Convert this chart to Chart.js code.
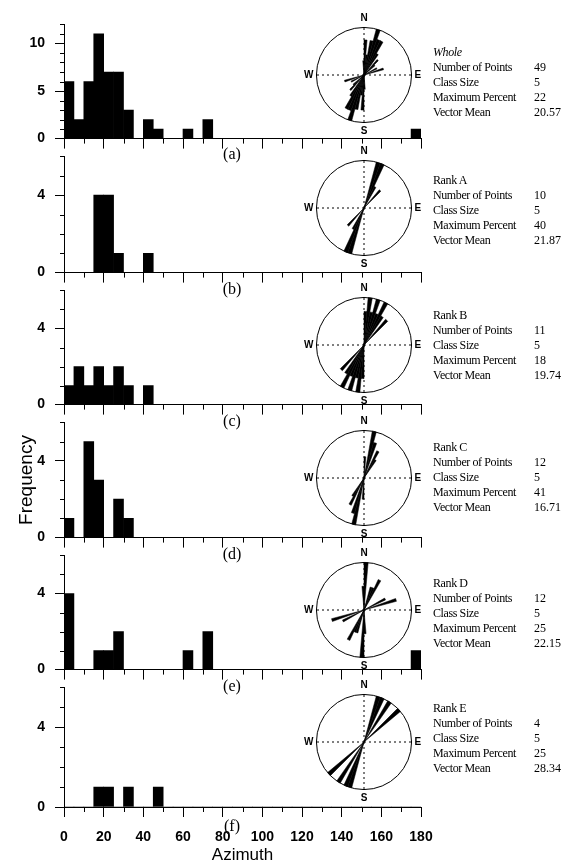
<!DOCTYPE html>
<html>
<head>
<meta charset="utf-8">
<script src="https://cdn.jsdelivr.net/npm/chart.js@4.4.1/dist/chart.umd.min.js"></script>
<style>
  body { margin: 0; background: #fff; }
  #fig { position: relative; width: 566px; height: 866px; overflow: hidden; background: #fff; }
  #fig canvas { position: absolute; }
  .stats { position: absolute; left: 433px; font: 12px "Liberation Serif", serif; line-height: 15px; letter-spacing: -0.4px; color: #000; white-space: nowrap; }
  .stats div { position: relative; }
  .stats span { position: absolute; left: 101px; letter-spacing: 0; }
  .tag { position: absolute; width: 30px; text-align: center; font: 16px "Liberation Serif", serif; color: #000; }
</style>
</head>
<body>
<div id="fig"></div>
<script>
// Azimuth classes, class size 5 degrees (start of each class)
const binStart = [0, 5, 10, 15, 20, 25, 30, 35, 40, 45, 50, 55, 60, 65, 70, 75, 80, 85,
                  90, 95, 100, 105, 110, 115, 120, 125, 130, 135, 140, 145, 150, 155, 160, 165, 170, 175];

// Frequencies per class
const wholeCounts = [6, 2, 6, 11, 7, 7, 3, 0, 2, 1, 0, 0, 1, 0, 2, 0, 0, 0,
                     0, 0, 0, 0, 0, 0, 0, 0, 0, 0, 0, 0, 0, 0, 0, 0, 0, 1];
const rankACounts = [0, 0, 0, 4, 4, 1, 0, 0, 1, 0, 0, 0, 0, 0, 0, 0, 0, 0,
                     0, 0, 0, 0, 0, 0, 0, 0, 0, 0, 0, 0, 0, 0, 0, 0, 0, 0];
const rankBCounts = [1, 2, 1, 2, 1, 2, 1, 0, 1, 0, 0, 0, 0, 0, 0, 0, 0, 0,
                     0, 0, 0, 0, 0, 0, 0, 0, 0, 0, 0, 0, 0, 0, 0, 0, 0, 0];
const rankCCounts = [1, 0, 5, 3, 0, 2, 1, 0, 0, 0, 0, 0, 0, 0, 0, 0, 0, 0,
                     0, 0, 0, 0, 0, 0, 0, 0, 0, 0, 0, 0, 0, 0, 0, 0, 0, 0];
const rankDCounts = [4, 0, 0, 1, 1, 2, 0, 0, 0, 0, 0, 0, 1, 0, 2, 0, 0, 0,
                     0, 0, 0, 0, 0, 0, 0, 0, 0, 0, 0, 0, 0, 0, 0, 0, 0, 1];
const rankECounts = [0, 0, 0, 1, 1, 0, 1, 0, 0, 1, 0, 0, 0, 0, 0, 0, 0, 0,
                     0, 0, 0, 0, 0, 0, 0, 0, 0, 0, 0, 0, 0, 0, 0, 0, 0, 0];

// Summary text next to each rose
const panelNames = ["Whole", "Rank A", "Rank B", "Rank C", "Rank D", "Rank E"];
const numberOfPoints = ["49", "10", "11", "12", "12", "4"];
const classSize = ["5", "5", "5", "5", "5", "5"];
const maximumPercent = ["22", "40", "18", "41", "25", "25"];
const vectorMean = ["20.57", "21.87", "19.74", "16.71", "22.15", "28.34"];
const panelTags = ["(a)", "(b)", "(c)", "(d)", "(e)", "(f)"];

// Tick labels
const xMajor = [0, 20, 40, 60, 80, 100, 120, 140, 160, 180];
const xMinor = [10, 30, 50, 70, 90, 110, 130, 150, 170];
const yMajorWhole = [0, 5, 10];
const yMinorWhole = [1, 2, 3, 4, 6, 7, 8, 9, 11, 12];
const yMajorRank = [0, 4];
const yMinorRank = [1, 2, 3, 5, 6];
const compass = ["N", "E", "S", "W"];

// Page layout (pixels)
const zeroY = [143, 277, 409, 542, 674, 807];
const topY = [11, 143, 277, 409, 542, 674];
const roseY = [75, 208, 345, 478, 610, 742];
const textY = [52, 180, 315, 447, 583, 708];
const tagY = [155, 290, 422, 555, 687, 827];

const allCounts = [wholeCounts, rankACounts, rankBCounts, rankCCounts, rankDCounts, rankECounts];
const fig = document.getElementById("fig");

function addCanvas(left, top, w, h) {
    const c = document.createElement("canvas");
    c.width = w;
    c.height = h;
    c.style.left = left + "px";
    c.style.top = top + "px";
    c.style.width = w + "px";
    c.style.height = h + "px";
    fig.appendChild(c);
    return c;
}

// Short ticks between the labelled ones
const minorTicks = {
    id: "minorTicks",
    afterDraw(chart, args, opts) {
        const ctx = chart.ctx;
        const xs = chart.scales.x;
        const ys = chart.scales.y;
        ctx.save();
        ctx.strokeStyle = "#000";
        ctx.lineWidth = 1;
        ctx.beginPath();
        opts.x.forEach(v => {
            const px = Math.round(xs.getPixelForValue(v)) + 0.5;
            ctx.moveTo(px, xs.top);
            ctx.lineTo(px, xs.top + opts.xLen);
        });
        opts.y.forEach(v => {
            const py = Math.round(ys.getPixelForValue(v)) + 0.5;
            ctx.moveTo(ys.right - opts.yLen, py);
            ctx.lineTo(ys.right, py);
        });
        ctx.stroke();
        ctx.restore();
    }
};

const tickFont = { family: "Liberation Sans", size: 14, weight: "bold" };

function makeHistogram(i) {
    const counts = allCounts[i];
    const last = i === 5;
    const bottomH = last ? 866 - zeroY[i] : 14;
    const canvasTop = topY[i] - 5;
    const h = zeroY[i] - canvasTop + bottomH;
    const yMajor = i === 0 ? yMajorWhole : yMajorRank;
    const yMinor = i === 0 ? yMinorWhole : yMinorRank;

    new Chart(addCanvas(0, canvasTop, 460, h), {
        type: "bar",
        data: {
            datasets: [{
                data: binStart.map((s, k) => ({ x: s + 2.5, y: counts[k] })),
                backgroundColor: "#000",
                borderWidth: 0,
                barPercentage: 1,
                categoryPercentage: 1
            }]
        },
        options: {
            responsive: false,
            animation: false,
            devicePixelRatio: 1,
            layout: { padding: { top: 5, right: 39, left: 0, bottom: 0 } },
            plugins: {
                legend: { display: false },
                tooltip: { enabled: false },
                minorTicks: { x: xMinor, y: yMinor, xLen: 5, yLen: 4 }
            },
            scales: {
                x: {
                    type: "linear",
                    min: 0,
                    max: 180,
                    offset: false,
                    grid: { offset: false, drawOnChartArea: false, tickLength: 10, color: "#000" },
                    border: { color: "#000", width: 1 },
                    ticks: { display: last, font: tickFont, color: "#000", padding: 12, maxRotation: 0, autoSkip: false },
                    afterBuildTicks: s => { s.ticks = xMajor.map(v => ({ value: v })); },
                    afterFit: s => { s.height = bottomH; },
                    title: {
                        display: last,
                        text: "Azimuth",
                        color: "#000",
                        font: { family: "Liberation Sans", size: 17 },
                        padding: 0
                    }
                },
                y: {
                    min: 0,
                    max: i === 0 ? 12 : 6,
                    grid: { drawOnChartArea: false, tickLength: 9, color: "#000" },
                    border: { color: "#000", width: 1 },
                    ticks: { font: tickFont, color: "#000", padding: 10 },
                    afterBuildTicks: s => { s.ticks = yMajor.map(v => ({ value: v })); },
                    afterFit: s => { s.width = 64; },
                    title: {
                        display: i === 3,
                        text: "Frequency",
                        color: "#000",
                        font: { family: "Liberation Sans", size: 19 },
                        padding: { top: 15, bottom: 0 }
                    }
                }
            }
        },
        plugins: [minorTicks]
    });
}

// Rose diagram: axial data mirrored to 180-360, equal-area petals
function makeRose(i) {
    const counts = allCounts[i];
    const labels = [];
    for (let k = 0; k < 72; k++) labels.push(k % 18 === 0 ? compass[k / 18] : "");
    const petals = counts.concat(counts).map(Math.sqrt);
    const rMax = Math.sqrt(Math.max(...counts));

    new Chart(addCanvas(363 - 60, roseY[i] - 63, 120, 126), {
        type: "polarArea",
        data: {
            labels: labels,
            datasets: [{ data: petals, backgroundColor: "#000", borderColor: "#000", borderWidth: 0.5 }]
        },
        options: {
            responsive: false,
            animation: false,
            devicePixelRatio: 1,
            layout: { padding: 0 },
            plugins: { legend: { display: false }, tooltip: { enabled: false } },
            scales: {
                r: {
                    min: 0,
                    max: rMax,
                    startAngle: 0,
                    ticks: { display: false },
                    afterBuildTicks: s => { s.ticks = [{ value: 0 }, { value: rMax }]; },
                    grid: { circular: true, color: "#000", lineWidth: 1 },
                    angleLines: {
                        display: true,
                        color: "#000",
                        lineWidth: ctx => (ctx.index % 18 === 0 ? 1 : 0),
                        borderDash: [2, 3]
                    },
                    pointLabels: {
                        display: true,
                        centerPointLabels: false,
                        padding: 3,
                        color: "#000",
                        font: { family: "Liberation Sans", size: 10, weight: "bold" }
                    }
                }
            }
        }
    });
}

function makeStats(i) {
    const box = document.createElement("div");
    box.className = "stats";
    box.style.top = (textY[i] - 7.5) + "px";
    const rows = [
        [panelNames[i], ""],
        ["Number of Points", numberOfPoints[i]],
        ["Class Size", classSize[i]],
        ["Maximum Percent", maximumPercent[i]],
        ["Vector Mean", vectorMean[i]]
    ];
    rows.forEach((r, k) => {
        const line = document.createElement("div");
        line.textContent = r[0];
        if (k === 0 && i === 0) line.style.fontStyle = "italic";
        const v = document.createElement("span");
        v.textContent = r[1];
        line.appendChild(v);
        box.appendChild(line);
    });
    fig.appendChild(box);

    const tag = document.createElement("div");
    tag.className = "tag";
    tag.textContent = panelTags[i];
    tag.style.left = (232 - 15) + "px";
    tag.style.top = (tagY[i] - 10) + "px";
    fig.appendChild(tag);
}

for (let i = 0; i < 6; i++) {
    makeHistogram(i);
    makeStats(i);
}
for (let i = 0; i < 6; i++) {
    makeRose(i);
}
</script>
</body>
</html>
